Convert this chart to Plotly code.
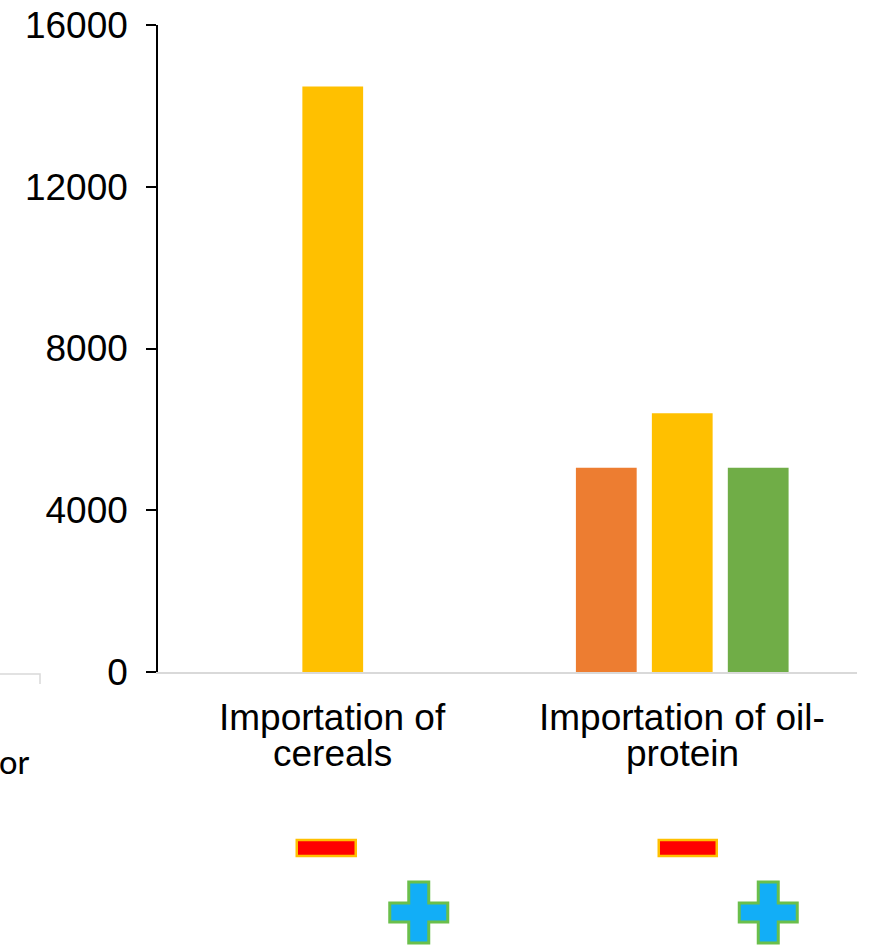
import plotly.graph_objects as go

# ---- data ----
categories = ["Importation of cereals", "Importation of oil-protein"]
label_line1 = ["Importation of", "Importation of oil-"]
label_line2 = ["cereals", "protein"]
series_names = ["Series 1", "Series 2", "Series 3"]
series_orange = [None, 5050]
series_yellow = [14480, 6400]
series_green = [None, 5050]
series_colors = ["#ED7D31", "#FFC000", "#70AD47"]
y_ticks = [0, 4000, 8000, 12000, 16000]
y_tick_labels = ["0", "4000", "8000", "12000", "16000"]

FONT = "Liberation Sans, Arial, sans-serif"
FS = 37

fig = go.Figure()
for name, vals, col in zip(series_names, [series_orange, series_yellow, series_green], series_colors):
    fig.add_trace(go.Bar(x=categories, y=vals, name=name, marker=dict(color=col, line=dict(width=0))))

W, H = 874, 946
L, R, T, B = 158, 17, 25, 274

fig.update_layout(
    width=W, height=H,
    margin=dict(l=L, r=R, t=T, b=B, autoexpand=False),
    paper_bgcolor="white", plot_bgcolor="white",
    barmode="group", bargap=0.348, bargroupgap=0.2,
    showlegend=False,
    font=dict(family=FONT, size=FS, color="black"),
)
fig.update_yaxes(
    range=[0, 16000], tickvals=y_ticks, ticktext=y_tick_labels,
    showgrid=False, zeroline=False, automargin=False,
    showline=True, linecolor="black", linewidth=1.5,
    ticks="outside", ticklen=10, tickwidth=1.5, tickcolor="black",
    tickfont=dict(family=FONT, size=FS, color="black"),
    ticklabelstandoff=11, ticklabeloverflow="allow",
)
fig.update_xaxes(
    showgrid=False, zeroline=False, showticklabels=False, automargin=False,
    showline=True, linecolor="#d9d9d9", linewidth=1.5, ticks="",
)

# category labels as two tight lines (y positions relative to the x axis, in px)
for cat, l1, l2 in zip(categories, label_line1, label_line2):
    fig.add_annotation(x=cat, xref="x", y=0, yref="paper", text=l1, showarrow=False,
                       xanchor="center", yanchor="middle", yshift=-45,
                       font=dict(family=FONT, size=FS, color="black"))
    fig.add_annotation(x=cat, xref="x", y=0, yref="paper", text=l2, showarrow=False,
                       xanchor="center", yanchor="middle", yshift=-81,
                       font=dict(family=FONT, size=FS, color="black"))

# partial neighbouring panel at left edge
fig.add_annotation(x=(32 - L) / (W - L - R), xref="paper", y=0, yref="paper", text="or",
                   showarrow=False, xanchor="right", yanchor="middle", yshift=-90,
                   font=dict(family="Carlito, Liberation Sans, sans-serif", size=35, color="black"))
fig.add_shape(type="path", xref="paper", yref="paper",
              xsizemode="pixel", ysizemode="pixel", xanchor=0, yanchor=0,
              path="M -160 -2 L -118 -2 L -118 -12",
              line=dict(color="#d9d9d9", width=1.5))

# minus / plus symbols under each category
minus_offsets = [(-36, 23), (-23.5, 34.5)]
for cat, (mx0, mx1) in zip(categories, minus_offsets):
    fig.add_shape(type="rect", xref="x", yref="paper", xsizemode="pixel", ysizemode="pixel",
                  xanchor=cat, yanchor=0, x0=mx0, x1=mx1, y0=-184, y1=-168,
                  fillcolor="#FF0000", line=dict(color="#FFC000", width=2.5), layer="above")
    a0, a1, a2, a3 = 57, 76, 96, 115
    t, u, v, b = -210, -231, -250, -271
    path = (f"M {a1} {t} L {a2} {t} L {a2} {u} L {a3} {u} L {a3} {v} L {a2} {v} "
            f"L {a2} {b} L {a1} {b} L {a1} {v} L {a0} {v} L {a0} {u} L {a1} {u} Z")
    fig.add_shape(type="path", xref="x", yref="paper", xsizemode="pixel", ysizemode="pixel",
                  xanchor=cat, yanchor=0, path=path,
                  fillcolor="#12AEF7", line=dict(color="#6ABF4B", width=3), layer="above")

fig.write_html("out.html", config={"displayModeBar": False},
               post_script="document.body.style.margin='0';")
